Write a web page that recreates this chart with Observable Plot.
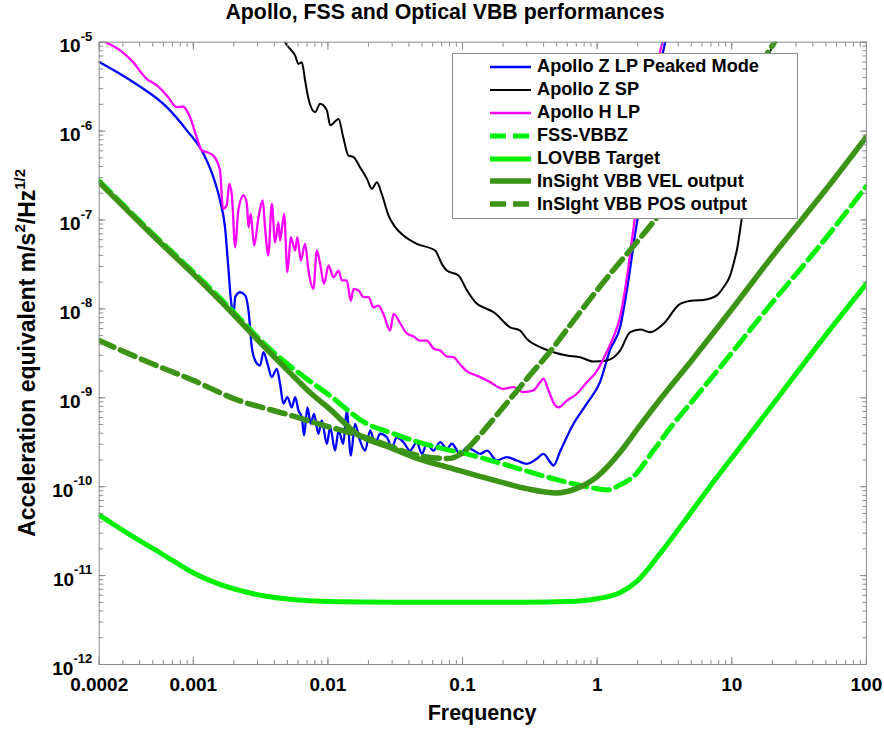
<!DOCTYPE html>
<html><head><meta charset="utf-8">
<script src="https://cdn.jsdelivr.net/npm/d3@7"></script>
<script src="https://cdn.jsdelivr.net/npm/@observablehq/plot@0.6"></script>
<style>
body{margin:0;background:#fff;font-family:"Liberation Sans",Arial,Helvetica,sans-serif;}
#wrap{position:relative;width:884px;height:731px;overflow:hidden;background:#fff;}
#title{height:28px;line-height:25px;font-size:21.3px;font-weight:bold;text-align:center;padding-left:6px;box-sizing:border-box;width:884px;color:#000;}
#chart svg{display:block;}
#legend{position:absolute;left:452px;top:53px;width:346px;height:166px;box-sizing:border-box;border:1px solid #8c8c8c;background:#fff;padding-top:1.5px;}
.row{height:22.9px;display:flex;align-items:center;font-size:18.2px;font-weight:bold;white-space:nowrap;color:#000;}
.row svg{margin-left:37px;margin-right:6px;flex:none;}
</style></head>
<body><div id="wrap"><div id="title">Apollo, FSS and Optical VBB performances</div><div id="chart"></div><div id="legend"></div></div>
<script>
// ---------- data: [frequency (Hz), acceleration (m/s^2/Hz^1/2)] ----------
const apolloZLP = [[2.0e-4,6.0e-6],[3.59e-4,3.55e-6],[6.36e-4,1.86e-6],[8.95e-4,1.02e-6],[1.19e-3,5.56e-7],[1.41e-3,3.03e-7],[1.58e-3,1.66e-7],[1.72e-3,8.3e-8],[1.82e-3,2.94e-8],[1.91e-3,1.19e-8],[1.99e-3,8.8e-9],[2.05e-3,1.36e-8],[2.23e-3,1.54e-8],[2.43e-3,1.42e-8],[2.57e-3,9.6e-9],[2.72e-3,3.71e-9],[2.88e-3,2.63e-9],[3.13e-3,2.31e-9],[3.32e-3,3.26e-9],[3.56e-3,2.41e-9],[3.83e-3,1.71e-9],[4.17e-3,2.12e-9],[4.41e-3,1.44e-9],[4.67e-3,8.6e-10],[5.0e-3,1.02e-9],[5.39e-3,7.8e-10],[5.71e-3,1.02e-9],[6.04e-3,7.2e-10],[6.4e-3,6.05e-10],[6.65e-3,3.77e-10],[7.04e-3,7.8e-10],[7.46e-3,5.1e-10],[7.89e-3,6.6e-10],[8.5e-3,3.94e-10],[9.0e-3,5.56e-10],[9.82e-3,3.04e-10],[1.04e-2,4.67e-10],[1.13e-2,2.55e-10],[1.2e-2,4.29e-10],[1.3e-2,3.04e-10],[1.38e-2,7.2e-10],[1.48e-2,2.24e-10],[1.59e-2,5.1e-10],[1.73e-2,3.31e-10],[1.89e-2,2.55e-10],[2.06e-2,4.29e-10],[2.24e-2,3.04e-10],[2.44e-2,3.94e-10],[2.74e-2,3.6e-10],[2.99e-2,2.78e-10],[3.25e-2,3.6e-10],[3.64e-2,3.17e-10],[4.08e-2,2.55e-10],[4.57e-2,3.17e-10],[4.99e-2,2.34e-10],[5.43e-2,3.04e-10],[6.08e-2,2.55e-10],[6.82e-2,3.17e-10],[7.64e-2,2.67e-10],[8.33e-2,3.04e-10],[9.6e-2,2.34e-10],[0.108,2.78e-10],[0.121,2.55e-10],[0.135,2.34e-10],[0.152,2.55e-10],[0.18,1.97e-10],[0.213,2.15e-10],[0.253,1.97e-10],[0.30,1.81e-10],[0.356,2.06e-10],[0.399,2.34e-10],[0.448,1.89e-10],[0.474,1.73e-10],[0.531,2.5e-10],[0.667,5.1e-10],[0.838,8.6e-10],[1.05,1.5e-9],[1.25,3.5e-9],[1.48,6.2e-9],[1.66,1.61e-8],[1.97,9.1e-8],[2.34,3.3e-7],[3.2,1.0e-5],[3.4,1.3e-5]];

const apolloZSP = [[4.65e-3,1.16e-5],[4.81e-3,1.0e-5],[5.24e-3,8.4e-6],[5.7e-3,7.1e-6],[6.04e-3,5.7e-6],[6.4e-3,5.96e-6],[6.77e-3,3.71e-6],[7.17e-3,2.31e-6],[8.03e-3,1.63e-6],[8.75e-3,2.03e-6],[9.82e-3,1.71e-6],[1.04e-2,1.16e-6],[1.2e-2,1.37e-6],[1.3e-2,8.5e-7],[1.42e-2,5.3e-7],[1.55e-2,5.1e-7],[1.73e-2,3.93e-7],[1.95e-2,2.9e-7],[2.12e-2,2.24e-7],[2.31e-2,2.66e-7],[2.51e-2,1.97e-7],[2.82e-2,1.12e-7],[3.16e-2,8.3e-8],[3.64e-2,6.7e-8],[4.57e-2,5.4e-8],[6.25e-2,4.54e-8],[7.02e-2,3.21e-8],[7.64e-2,2.7e-8],[9.33e-2,2.38e-8],[0.108,1.61e-8],[0.128,1.14e-8],[0.143,1.04e-8],[0.17,9.2e-9],[0.226,6.2e-9],[0.268,5.7e-9],[0.30,4.6e-9],[0.377,3.71e-9],[0.474,3.26e-9],[0.596,2.99e-9],[0.748,2.86e-9],[0.94,2.56e-9],[1.18,2.63e-9],[1.48,3.4e-9],[1.76,5.47e-9],[2.09,5.86e-9],[2.48,5.47e-9],[3.11,6.8e-9],[4.14,1.14e-8],[5.19,1.24e-8],[6.16,1.26e-8],[7.75,1.42e-8],[8.68,1.75e-8],[9.73,2.38e-8],[10.6,3.82e-8],[10.9,4.54e-8],[11.9,1.07e-7],[19.9,8.8e-6],[21.0,1.0e-5],[22.0,1.2e-5]];

const apolloHLP = [[2.0e-4,1.12e-5],[2.25e-4,1.0e-5],[2.86e-4,8.1e-6],[3.49e-4,6.2e-6],[4.51e-4,3.87e-6],[5.36e-4,3.26e-6],[6.36e-4,2.51e-6],[7.54e-4,1.86e-6],[8.36e-4,1.89e-6],[9.47e-4,1.43e-6],[1.06e-3,8.5e-7],[1.16e-3,6.05e-7],[1.26e-3,5.8e-7],[1.41e-3,5.3e-7],[1.58e-3,3.6e-7],[1.66e-3,1.34e-7],[1.77e-3,1.46e-7],[1.85e-3,2.55e-7],[1.93e-3,1.97e-7],[2.05e-3,4.94e-8],[2.16e-3,1.28e-7],[2.36e-3,1.89e-7],[2.5e-3,1.52e-7],[2.57e-3,8.3e-8],[2.67e-3,1.17e-7],[2.83e-3,5.16e-8],[3.05e-3,1.07e-7],[3.28e-3,1.66e-7],[3.41e-3,8.3e-8],[3.61e-3,3.99e-8],[3.83e-3,1.52e-7],[4.05e-3,5.62e-8],[4.29e-3,9.4e-8],[4.41e-3,5.88e-8],[4.73e-3,1.17e-7],[5.0e-3,2.59e-8],[5.3e-3,6.4e-8],[5.7e-3,4.54e-8],[5.93e-3,6.4e-8],[6.29e-3,3.5e-8],[6.77e-3,5.4e-8],[7.17e-3,2.7e-8],[7.8e-3,1.68e-8],[8.27e-3,4.54e-8],[8.75e-3,3.21e-8],[9.37e-3,1.91e-8],[1.01e-2,3.08e-8],[1.1e-2,2.27e-8],[1.2e-2,2.7e-8],[1.27e-2,2.09e-8],[1.38e-2,2.09e-8],[1.48e-2,1.24e-8],[1.55e-2,1.68e-8],[1.69e-2,1.61e-8],[1.84e-2,1.36e-8],[2.0e-2,1.36e-8],[2.18e-2,1.04e-8],[2.37e-2,1.09e-8],[2.58e-2,8.8e-9],[2.9e-2,5.7e-9],[3.07e-2,8.8e-9],[3.44e-2,6.9e-9],[3.85e-2,5.3e-9],[4.32e-2,4.9e-9],[4.84e-2,4.4e-9],[5.43e-2,4.4e-9],[6.08e-2,3.59e-9],[6.82e-2,3.4e-9],[7.64e-2,2.92e-9],[8.55e-2,2.86e-9],[9.6e-2,2.37e-9],[0.108,1.98e-9],[0.121,1.83e-9],[0.135,1.71e-9],[0.16,1.5e-9],[0.201,1.26e-9],[0.239,1.32e-9],[0.283,1.16e-9],[0.336,1.21e-9],[0.377,1.5e-9],[0.399,1.64e-9],[0.435,1.21e-9],[0.488,8.2e-10],[0.516,7.8e-10],[0.596,9.3e-10],[0.707,1.11e-9],[0.838,1.5e-9],[0.995,2.0e-9],[1.18,3.3e-9],[1.32,4.8e-9],[1.48,8.1e-9],[1.66,2.2e-8],[1.86,8.0e-8],[3.05,1.0e-5],[3.3,1.5e-5]];

const fssVBBZ = [[2e-4,2.75e-7],[5e-4,7.0e-8],[1e-3,2.6e-8],[2e-3,9.2e-9],[3e-3,4.8e-9],[5e-3,2.4e-9],[7.8e-3,1.44e-9],[1e-2,1.1e-9],[1.95e-2,5.1e-10],[3e-2,4.0e-10],[4.32e-2,3.3e-10],[7e-2,2.7e-10],[0.12,2.24e-10],[0.2,1.8e-10],[0.3,1.5e-10],[0.5,1.2e-10],[0.7,1.06e-10],[1.0,9.5e-11],[1.2,9.2e-11],[1.48,1.05e-10],[1.86,1.3e-10],[2.62,2.55e-10],[3.5,4.6e-10],[5,8.9e-10],[8.2,2.21e-9],[20,1.18e-8],[42.9,4.7e-8],[100,2.4e-7]];

const lovbbTarget = [[2e-4,4.8e-11],[3.3e-4,2.95e-11],[5.83e-4,1.76e-11],[1.03e-3,1.05e-11],[1.82e-3,7.4e-12],[3.23e-3,5.97e-12],[5.39e-3,5.38e-12],[1e-2,5.1e-12],[3e-2,5.02e-12],[0.1,5.0e-12],[0.3,5.0e-12],[0.6,5.1e-12],[1,5.5e-12],[1.5,6.5e-12],[2,8.8e-12],[3,1.85e-11],[5,5.2e-11],[7,1.04e-10],[10,2.1e-10],[20,8.3e-10],[50,5.1e-9],[100,1.92e-8]];

const insightVEL = [[2e-4,2.65e-7],[5e-4,6.7e-8],[1e-3,2.46e-8],[2e-3,8.6e-9],[3e-3,4.5e-9],[5e-3,2.05e-9],[7.8e-3,1.06e-9],[1e-2,7.8e-10],[1.64e-2,3.94e-10],[3e-2,2.7e-10],[4.32e-2,2.15e-10],[8.55e-2,1.59e-10],[0.2,1.11e-10],[0.3,9.5e-11],[0.5,8.5e-11],[0.7,9.5e-11],[1,1.3e-10],[1.5,2.5e-10],[2,4.5e-10],[3,1.0e-9],[5,2.6e-9],[10,9.9e-9],[20,3.9e-8],[50,2.2e-7],[100,8.6e-7]];

const insightPOS = [[2e-4,4.4e-9],[5e-4,2.4e-9],[1e-3,1.57e-9],[2e-3,9.8e-10],[5e-3,6.5e-10],[1e-2,4.75e-10],[1.55e-2,3.94e-10],[2e-2,3.5e-10],[5e-2,2.2e-10],[7.7e-2,2.07e-10],[0.1,2.4e-10],[0.13,3.6e-10],[0.2,7.8e-10],[0.3,1.63e-9],[0.474,3.7e-9],[0.612,6.2e-9],[1,1.63e-8],[2.94,1.2e-7],[20.4,9.6e-6],[22,1.15e-5]];

// ---------- tick labels ----------
const xTicks = [0.0002, 0.001, 0.01, 0.1, 1, 10, 100];
const xTickLabels = ["0.0002", "0.001", "0.01", "0.1", "1", "10", "100"];
const yTicks = [1e-12, 1e-11, 1e-10, 1e-9, 1e-8, 1e-7, 1e-6, 1e-5];
const yTickExponents = ["-12", "-11", "-10", "-9", "-8", "-7", "-6", "-5"];

// ---------- series & styles ----------
const seriesNames = ["Apollo Z LP Peaked Mode", "Apollo Z SP", "Apollo H LP", "FSS-VBBZ", "LOVBB Target", "InSight VBB VEL output", "InSIght VBB POS output"];
const seriesData = [apolloZLP, apolloZSP, apolloHLP, fssVBBZ, lovbbTarget, insightVEL, insightPOS];
const seriesColors = ["#0000ff", "#000000", "#ff00ff", "#00f000", "#00f000", "#3b9416", "#3b9416"];
const seriesWidths = [2.3, 2, 2.3, 5, 5, 5.5, 5.5];
const seriesDash = [null, null, null, "16,7", null, null, "16,7"];

const FONT = '"Liberation Sans", Arial, Helvetica, sans-serif';
const AX = "#8c8c8c";
const yExpMap = new Map(yTicks.map((v, i) => [v, yTickExponents[i]]));

const lineMarks = seriesData.map((data, i) => Plot.line(data, {
  x: d => d[0], y: d => d[1],
  stroke: seriesColors[i], strokeWidth: seriesWidths[i],
  strokeDasharray: seriesDash[i], curve: "monotone-x",
  strokeLinejoin: "round", clip: true
}));

const svg = Plot.plot({
  width: 884, height: 703,
  marginLeft: 98.7, marginRight: 18.1, marginTop: 13.7, marginBottom: 67,
  x: {type: "log", domain: [2e-4, 100], label: null},
  y: {type: "log", domain: [1e-12, 1e-5], label: null},
  style: {fontFamily: FONT, background: "white", color: "#000"},
  marks: [
    ...lineMarks,
    Plot.frame({stroke: AX}),
    Plot.axisX({anchor: "bottom", ticks: 80, tickSize: -4, tickFormat: () => "", stroke: AX, label: null}),
    Plot.axisX({anchor: "top", ticks: 80, tickSize: -4, tickFormat: () => "", stroke: AX, label: null}),
    Plot.axisX(xTicks, {anchor: "bottom", tickSize: -7, tickFormat: () => "", stroke: AX, label: null}),
    Plot.axisX(xTicks, {anchor: "top", tickSize: -7, tickFormat: () => "", stroke: AX, label: null}),
    Plot.axisY({anchor: "left", ticks: 80, tickSize: -4.5, tickFormat: () => "", stroke: AX, label: null}),
    Plot.axisY({anchor: "right", ticks: 80, tickSize: -4.5, tickFormat: () => "", stroke: AX, label: null}),
    Plot.axisY(yTicks, {anchor: "left", tickSize: -7, tickFormat: () => "", stroke: AX, label: null}),
    Plot.axisY(yTicks, {anchor: "right", tickSize: -7, tickFormat: () => "", stroke: AX, label: null}),
    // x tick labels drawn as text through the x scale
    Plot.text(xTicks, {x: d => d, text: (d, i) => xTickLabels[i], frameAnchor: "bottom", lineAnchor: "top",
      dy: 12.5, fontSize: 19, fontWeight: "bold", fill: "#000"}),
    Plot.axisY(yTicks, {anchor: "left", tickSize: 0, tickPadding: 7, tickFormat: d => "E" + yExpMap.get(d), fontSize: 19, fontWeight: "bold", fill: "#000", label: null})
  ]
});

const root = d3.select(svg);
// superscripted powers of ten on the y axis
root.selectAll("text").each(function () {
  const t = this.textContent;
  if (t && t.startsWith("E")) {
    const sel = d3.select(this);
    sel.text(null);
    sel.append("tspan").attr("dy", 4).text("10");
    sel.append("tspan").attr("dy", -11.5).attr("font-size", 13).text(t.slice(1));
  }
});
// x-axis label
root.append("text").attr("x", 482).attr("y", 692).attr("text-anchor", "middle")
  .attr("font-size", 21.5).attr("font-weight", "bold").attr("fill", "#000").attr("font-family", FONT)
  .text("Frequency");
// y-axis label with superscripts
const yl = root.append("text").attr("transform", `translate(35,${(13.7 + 636) / 2}) rotate(-90)`)
  .attr("text-anchor", "middle").attr("font-size", 23).attr("font-weight", "bold")
  .attr("fill", "#000").attr("font-family", FONT);
yl.append("tspan").text("Acceleration equivalent m/s");
yl.append("tspan").attr("dy", -10).attr("font-size", 15).text("2");
yl.append("tspan").attr("dy", 10).text("/Hz");
yl.append("tspan").attr("dy", -10).attr("font-size", 15).text("1/2");

document.getElementById("chart").appendChild(svg);

// legend (overlay box, white background like the original)
const legend = d3.select("#legend");
seriesNames.forEach((name, i) => {
  const row = legend.append("div").attr("class", "row");
  const sw = row.append("svg").attr("width", 41).attr("height", 10);
  sw.append("line").attr("x1", 0).attr("x2", 41).attr("y1", 5).attr("y2", 5)
    .attr("stroke", seriesColors[i]).attr("stroke-width", seriesWidths[i])
    .attr("stroke-dasharray", seriesDash[i]);
  row.append("span").text(name);
});
</script></body></html>
